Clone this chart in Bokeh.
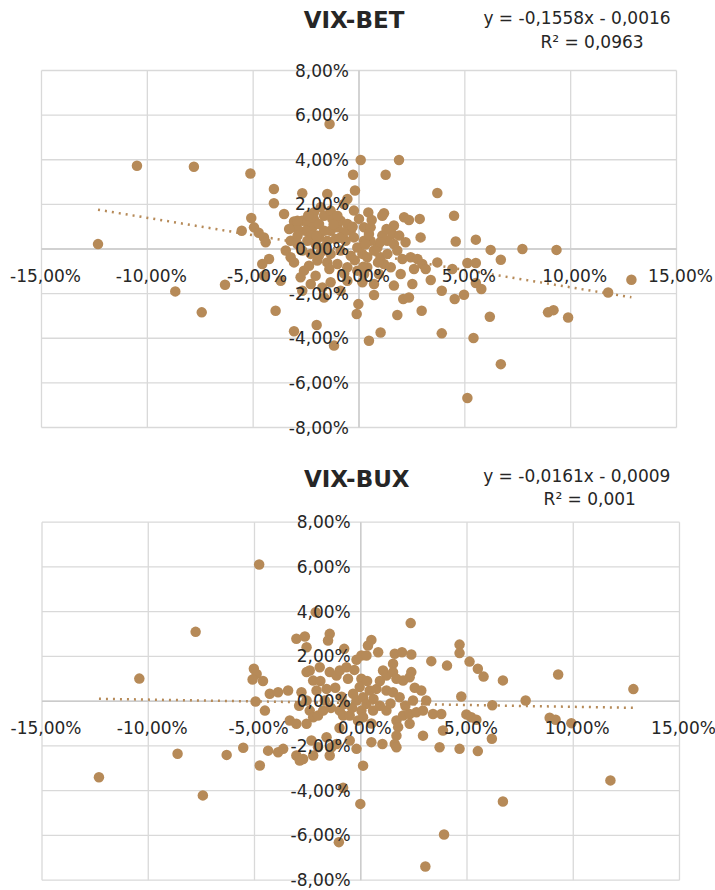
from bokeh.plotting import figure
from bokeh.models import ColumnDataSource, LabelSet, Label, Range1d
from bokeh.layouts import column
from bokeh.core.properties import value
from bokeh.embed import file_html
from bokeh.resources import INLINE

# ---------------- data (daily returns, in percent) ----------------
# VIX (x) versus BET (y)
bet_x = [
    -10.49, -7.80, -5.13, -12.33, -5.09, -5.54, -4.96, -4.74, -8.68, -7.43, -6.33,
    5.52, 6.22, 7.72, 9.33, 5.12, 5.52, 6.70, 5.52, 5.78, 4.96,
    6.18, 5.41, 6.70, 5.12, 8.93, 9.19, 9.88, 11.77, 12.87,
    -1.39, 0.08, 1.89, -0.28, 1.26, -0.19, -4.02, 3.70, -2.68, -1.50,
    -4.02, -0.55, -0.71, -3.54, -3.07, 0.44, 1.18, 1.10, 2.13, 2.36,
    2.87, 4.49, -4.49, -4.41, 2.91, 4.57, 1.65, 1.57, 0.24, 0.55,
    -3.46, -3.23, -3.07, -4.25, -4.57, -4.49, -3.70, -3.94, -3.07, -2.00,
    -1.18, 0.47, 1.02, 3.91, 1.81, 2.96, -0.11, -0.03, 0.71, 2.09,
    2.36, 2.52, 3.39, 3.91, 4.52, 3.70, 2.99, 3.15, 1.97, 1.65,
    4.41, -2.05, -2.76, -2.28, -2.68, -1.73, -1.65, -1.34, -0.87, -0.55,
    0.16, 0.71, -2.60,
    -2.68, -2.44, -2.13, -2.20, -1.89, -2.52, -2.91, -2.28, -1.89, -1.50,
    -2.05, -1.34, -1.02, -0.87, -0.55, -1.26, -1.65, -0.39, -0.24, -0.63,
    -0.08, 0.16, -0.39, -0.87, -1.34, -1.81, -2.28, -2.68, -2.91, -3.23,
    0.39, 0.71, 1.02, 1.34, 1.65, 1.81, 2.20, 2.05, 1.18, 1.50,
    2.44, 2.76, 0.39, -0.08, -0.55, -1.02, -1.50, -1.97, -2.36, 0.24,
    0.94, 1.34, 1.10, 0.55, 0.00, -0.24, -2.13, -1.81, -1.34, -1.02,
    -2.91, -2.44, -1.65, -1.10, -0.71, 0.24, 0.87, 0.47,
    -2.0, -1.2, -0.9, -1.6, -2.4, -0.3, 0.3, 0.9, 1.3, -0.2,
    -1.9, -2.9, 0.6, 1.9, -0.7, 1.0, -3.3, -1.4, 0.2, 2.6,
]
bet_y = [
    3.73, 3.69, 3.38, 0.22, 1.39, 0.82, 0.97, 0.73, -1.90, -2.84, -1.60,
    0.42, -0.04, 0.00, -0.04, -0.63, -0.63, -0.48, -1.52, -1.79, -2.05,
    -3.04, -3.99, -5.16, -6.68, -2.84, -2.74, -3.07, -1.95, -1.38,
    5.60, 3.99, 3.99, 3.33, 3.33, 2.62, 2.69, 2.51, 2.50, 2.47,
    2.05, 2.24, 2.02, 1.57, 1.23, 1.64, 1.60, 1.49, 1.42, 1.30,
    1.35, 1.49, 0.52, 0.30, 0.52, 0.34, 1.05, 0.67, 0.97, 0.37,
    -0.07, -0.37, -0.60, -0.45, -0.67, -1.20, -1.42, -2.77, -3.69, -3.41,
    -4.33, -4.11, -3.74, -3.78, -2.96, -2.77, -2.91, -2.47, -2.06, -2.24,
    -2.17, -1.57, -1.39, -1.87, -2.24, -0.60, -0.67, -0.90, -1.12, -1.64,
    -0.90, -1.20, -1.27, -1.57, -1.87, -1.72, -2.17, -1.49, -1.87, -1.42,
    -1.49, -1.57, -0.97,
    1.27, 1.20, 1.35, 0.97, 1.12, 0.82, 0.90, 0.60, 0.52, 0.37,
    0.22, 0.82, 0.97, 1.27, 1.12, 1.35, 1.49, 0.82, 0.52, 0.37,
    0.07, -0.22, -0.30, -0.07, -0.22, -0.15, -0.22, -0.07, 0.22, 0.37,
    -0.37, -0.07, -0.37, -0.22, 0.22, -0.07, 0.30, -0.45, -0.67, -0.82,
    -0.37, -0.45, -0.82, -0.97, -0.82, -0.67, -0.60, -0.52, -0.75, -1.12,
    -1.12, 0.37, 0.60, 0.97, 1.35, 1.72, 1.64, 1.87, 1.72, 1.49,
    1.27, 0.37, 0.82, 0.45, 0.75, 0.37, 0.07, 0.67,
    0.6, 1.1, 0.5, 0.1, 1.5, 1.0, 0.2, -0.6, 0.9, -0.5,
    -0.3, 0.6, 1.3, 0.6, -1.1, 0.3, 0.9, -0.9, -0.8, -0.9,
]

# VIX (x) versus BUX (y)
bux_x = [
    -7.77, -10.42, -5.03, -4.90, -5.09, -4.60, -4.95, -4.78, -12.32, -8.62, -7.43, -6.31, -5.53, -4.75,
    4.65, 4.65, 5.12, 5.51, 5.78, 6.69, 9.29, 12.83, 4.73, 6.19, 7.76,
    4.97, 5.20, 5.44, 8.89, 9.17, 9.91, 6.17, 5.51, 4.65, 11.75, 6.69,
    -0.83, -0.02, -1.03, 3.92, 3.04,
    -2.12, 2.35, -3.03, -2.63, -1.46, -1.54, -2.55, -0.78, 0.50, 0.34,
    0.82, 0.03, -0.20, 0.27, 1.60, 1.94, 1.52, 2.38, 3.32, 4.06,
    -2.55, -2.40, -2.24, -1.93, -1.46, -1.14, -0.99, -0.67, -0.60, 0.03,
    -0.05, 1.05, 1.21, 1.52, 1.68, 1.99, 2.38, 2.30, 2.54, 2.85,
    -4.28, -3.89, -3.42, -4.51, -2.79, -2.55, -2.08, -1.61, -1.69, -2.40,
    -2.24, -2.55, -2.01, -1.77, -3.34, -3.03, -0.99, -0.75, -0.83, -0.52,
    -0.36, -0.20, 0.11, 0.27, 0.42, 0.74, 0.58, 0.03, 0.11, -0.13,
    1.21, 1.52, 1.83, 2.46, 3.08, 1.21, 1.68, 1.99, 2.30, 2.62,
    2.93, 3.40, 3.79, 1.76, 2.30, 1.68, 2.93, 3.87, 0.50, 1.02,
    1.60, 1.68, 3.71, -0.20, -0.52, -1.61, -1.38, -1.14, -2.32, -2.01,
    -2.24, -3.03, -2.87, -2.71, -1.46, -4.36, -3.89, -3.65, 0.11,
    -1.2, -0.9, 0.6, 0.9, -1.4, 0.3, -0.4, 1.4, -2.9, -1.9,
    0.9, -0.3, 2.1, -1.0, 0.5,
]
bux_y = [
    3.10, 1.01, 1.45, 1.22, 0.97, 0.90, -0.01, 6.11, -3.40, -2.35, -4.21, -2.40, -2.08, -2.87,
    2.53, 2.15, 1.77, 1.45, 1.10, 0.93, 1.19, 0.54, 0.21, -0.18, 0.03,
    -0.59, -0.72, -0.83, -0.74, -0.83, -0.98, -1.68, -2.23, -2.13, -3.54, -4.48,
    -3.87, -4.59, -6.30, -5.96, -7.39,
    3.98, 3.49, 2.79, 2.89, 3.01, 2.71, 2.41, 2.34, 2.74, 2.49,
    2.19, 2.04, 1.85, 2.04, 2.12, 2.19, 1.67, 2.09, 1.79, 1.59,
    1.30, 1.37, 0.92, 1.52, 1.30, 1.15, 1.37, 1.52, 1.00, 1.00,
    0.63, 1.37, 1.15, 1.30, 1.00, 0.92, 1.30, 1.07, 0.60, 0.48,
    0.33, 0.40, 0.48, -0.42, 0.40, 0.03, 0.48, 0.55, 0.03, -0.42,
    -0.72, -1.01, -0.64, -0.42, -0.86, -1.01, -0.42, -0.12, -0.64, -0.64,
    0.33, 0.03, 0.18, -0.12, 0.48, 0.55, -0.42, -0.42, -0.72, -0.86,
    0.48, 0.40, 0.18, 0.03, 0.03, -0.42, -0.86, -0.64, -0.57, -0.49,
    -0.42, -0.57, -0.57, -1.16, -1.01, -1.54, -1.54, -1.31, -1.83, -1.91,
    -1.91, -2.06, -2.06, -2.13, -1.76, -1.61, -2.06, -1.91, -1.76, -2.06,
    -2.43, -2.43, -2.65, -2.58, -2.43, -2.21, -2.28, -2.13, -2.88,
    0.6, 0.2, 0.1, -0.2, -0.3, 0.9, -0.3, -0.1, -0.2, 0.9,
    0.9, 1.4, -0.2, -1.2, -1.0,
]

chart_titles = ["VIX-BET", "VIX-BUX"]
equation_texts = ["y = -0,1558x - 0,0016", "y = -0,0161x - 0,0009"]
r2_texts = ["R\u00b2 = 0,0963", "R\u00b2 = 0,001"]
trend_slopes = [-0.1558, -0.0161]
trend_intercepts = [-0.0016, -0.0009]

x_ticks = [-15, -10, -5, 0, 5, 10, 15]
x_tick_labels = ["-15,00%", "-10,00%", "-5,00%", "0,00%", "5,00%", "10,00%", "15,00%"]
y_ticks = [-8, -6, -4, -2, 0, 2, 4, 6, 8]
y_tick_labels = ["-8,00%", "-6,00%", "-4,00%", "-2,00%", "0,00%", "2,00%", "4,00%", "6,00%", "8,00%"]

# ---------------- styling ----------------
DOT = "#B68A58"
GRID = "#D9D9D9"
ZERO = "#CBCBCB"
TXT = "#262626"
FONT = "DejaVu Sans"


def make_chart(xs, ys, title, eq, r2, slope, intercept, fig_size, area, pos):
    fig_w, fig_h = fig_size
    al, at, aw, ah = area          # plot-area box inside the figure, in pixels
    sx = aw / (x_ticks[-1] - x_ticks[0])
    sy = ah / (y_ticks[-1] - y_ticks[0])
    xr = Range1d(x_ticks[0] - al / sx, x_ticks[-1] + (fig_w - al - aw) / sx)
    yr = Range1d(y_ticks[0] - (fig_h - at - ah) / sy, y_ticks[-1] + at / sy)

    p = figure(frame_width=fig_w, frame_height=fig_h, min_border=0,
               x_range=xr, y_range=yr,
               output_backend="svg", toolbar_location=None, tools="",
               title=None, background_fill_color="white", border_fill_color="white")
    p.axis.visible = False
    p.grid.visible = False
    p.outline_line_color = None

    # grid lines of the plot area (bounded to the tick range)
    xmin, xmax, ymin, ymax = x_ticks[0], x_ticks[-1], y_ticks[0], y_ticks[-1]
    p.segment(x0=x_ticks, y0=[ymin] * len(x_ticks), x1=x_ticks, y1=[ymax] * len(x_ticks),
              line_color=GRID, line_width=1.3)
    p.segment(x0=[xmin] * len(y_ticks), y0=y_ticks, x1=[xmax] * len(y_ticks), y1=y_ticks,
              line_color=GRID, line_width=1.3)
    # axes through the origin
    p.segment(x0=[xmin, 0], y0=[0, ymin], x1=[xmax, 0], y1=[0, ymax],
              line_color=ZERO, line_width=1.4)

    p.scatter(xs, ys, size=10.5, fill_color=DOT, line_color=DOT, line_width=0)

    x0, x1 = min(xs), max(xs)
    p.line([x0, x1], [slope * x0 + intercept * 100, slope * x1 + intercept * 100],
           line_color=DOT, line_width=2.5, line_dash="2 5")

    xsrc = ColumnDataSource(dict(x=x_ticks, y=[0] * len(x_ticks), t=x_tick_labels))
    p.add_layout(LabelSet(x="x", y="y", text="t", source=xsrc,
                          x_offset=4, y_offset=-27,
                          text_align="center", text_baseline="middle",
                          text_font=value(FONT), text_font_size=value("17px"),
                          text_color=value(TXT)))
    ysrc = ColumnDataSource(dict(x=[0] * len(y_ticks), y=y_ticks, t=y_tick_labels))
    p.add_layout(LabelSet(x="x", y="y", text="t", source=ysrc,
                          x_offset=-10, y_offset=0,
                          text_align="right", text_baseline="middle",
                          text_font=value(FONT), text_font_size=value("17px"),
                          text_color=value(TXT)))

    (tx, ty), (ex, ey), (rx, ry) = pos
    p.add_layout(Label(x=0, y=ymax, x_offset=tx, y_offset=ty, text=title,
                       text_align="center", text_baseline="middle",
                       text_font=FONT, text_font_size="23px", text_font_style="bold",
                       text_color=TXT))
    p.add_layout(Label(x=0, y=ymax, x_offset=ex, y_offset=ey, text=eq,
                       text_align="center", text_baseline="middle",
                       text_font=FONT, text_font_size="17px", text_color=TXT))
    p.add_layout(Label(x=0, y=ymax, x_offset=rx, y_offset=ry, text=r2,
                       text_align="center", text_baseline="middle",
                       text_font=FONT, text_font_size="17px", text_color=TXT))
    return p


p1 = make_chart(bet_x, bet_y, chart_titles[0], equation_texts[0], r2_texts[0],
                trend_slopes[0], trend_intercepts[0],
                fig_size=(715, 460), area=(41, 70, 635, 357),
                pos=((-5, 51), (218, 53), (233, 29)))
p2 = make_chart(bux_x, bux_y, chart_titles[1], equation_texts[1], r2_texts[1],
                trend_slopes[1], trend_intercepts[1],
                fig_size=(715, 430), area=(41.5, 61.7, 637.5, 358),
                pos=((-4, 43), (216, 46), (229, 23)))

layout = column(p1, p2, spacing=0)
open("out.html", "w").write(file_html(layout, INLINE))
